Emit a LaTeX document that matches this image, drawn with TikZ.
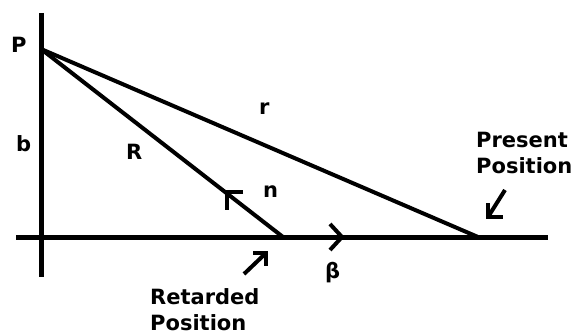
\documentclass[tikz,border=0pt]{standalone}
\usepackage{fontspec}
\setmainfont{DejaVu Sans}
\begin{document}
\begin{tikzpicture}[x=1pt,y=-1pt,
  lbl/.style={inner sep=0pt,anchor=base west,font=\fontsize{21}{25}\selectfont\bfseries},
  axisline/.style={line width=5pt},
  ray/.style={line width=4pt},
  barb/.style={line width=4pt,line join=miter,line cap=butt}]
\useasboundingbox (0,0) rectangle (575,334);
% key points
\coordinate (P) at (41,49);
\coordinate (ret) at (283,237);
\coordinate (pres) at (478,237);
\coordinate (vtop) at (41,13);
\coordinate (vbot) at (41,277);
\coordinate (hleft) at (16,237);
\coordinate (hright) at (548,237);
% axes
\draw[axisline] (vtop) -- (vbot);
\draw[axisline] (hleft) -- (hright);
% rays
\draw[ray] (P) -- (ret);
\draw[ray] (P) -- (pres);
% beta arrow head on axis
\coordinate (btip) at (342,237);
\draw[barb] (330,224) -- (btip) -- (330,250);
% n arrow head on R line
\coordinate (ntip) at (227,192);
\draw[barb] (243,192) -- (ntip) -- (227,210);
% present position arrow
\coordinate (pa1) at (505,190);
\coordinate (pa2) at (488,217);
\draw[barb] (pa1) -- (pa2);
\draw[barb] (488,203) -- (pa2) -- (503,217);
% retarded position arrow
\coordinate (ra1) at (244,274);
\coordinate (ra2) at (266,253);
\draw[barb] (ra1) -- (ra2);
\draw[barb] (253,253) -- (ra2) -- (266,266);
% labels
\node[lbl] (lP) at (11,53) {P};
\node[lbl] (lb) at (16,151) {b};
\node[lbl] (lR) at (126,159) {R};
\node[lbl] (lr) at (259,115) {r};
\node[lbl] (ln) at (263,197) {n};
\node[lbl] (lbeta) at (325,278) {β};
\node[lbl] (lret) at (150,304) {Retarded};
\node[lbl] (lretpos) at (150,330) {Position};
\node[lbl] (lpres) at (476,147) {Present};
\node[lbl] (lprespos) at (476,173) {Position};
\end{tikzpicture}
\end{document}
